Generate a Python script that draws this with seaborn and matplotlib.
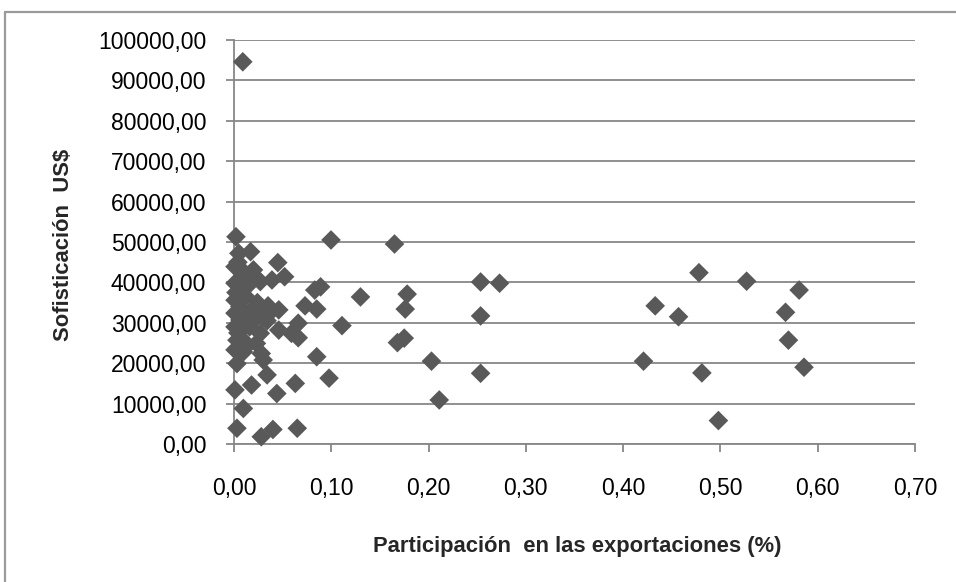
import matplotlib
matplotlib.use("Agg")
import matplotlib.pyplot as plt
import matplotlib.ticker as mticker
from matplotlib.lines import Line2D
import seaborn as sns
import pandas as pd

# Export share (%) of each product and its sophistication level (US$)
participacion = [
    0.002, 0.005, 0.017, 0.001, 0.0096, 0.020, 0.045, 0.052, 0.039, 0.027,
    0.001, 0.013, 0.001, 0.020, 0.035, 0.046, 0.001, 0.006, 0.001, 0.016,
    0.046, 0.059, 0.066, 0.066, 0.027, 0.003, 0.023, 0.001, 0.0096, 0.028,
    0.030, 0.003, 0.034, 0.018, 0.063, 0.001, 0.044, 0.0096, 0.003, 0.028,
    0.040, 0.065, 0.009,
    0.004, 0.008, 0.012, 0.006, 0.010, 0.014, 0.004, 0.008, 0.012, 0.018,
    0.022, 0.024, 0.016, 0.002, 0.030, 0.034, 0.038,
    0.0997, 0.165, 0.089, 0.083, 0.130, 0.178, 0.176, 0.073, 0.085, 0.111,
    0.168, 0.175, 0.085, 0.203, 0.0977, 0.211, 0.2535, 0.273, 0.2535, 0.2535,
    0.478, 0.527, 0.581, 0.433, 0.457, 0.567, 0.570, 0.421, 0.481, 0.586,
    0.498,
]
sofisticacion = [
    51300, 47200, 47600, 43900, 42700, 43100, 44900, 41400, 40600, 40200,
    39800, 38900, 35600, 33600, 34200, 33200, 32400, 30700, 29000, 29000,
    28200, 27400, 29900, 26300, 27400, 25700, 24900, 23300, 22800, 22400,
    20800, 19900, 17100, 14600, 15000, 13400, 12500, 8800, 3900, 1800,
    3600, 3900, 94600,
    45000, 41000, 36500, 34000, 31500, 30000, 27500, 26000, 24000, 32000,
    31000, 35000, 40000, 37500, 31500, 30500, 32800,
    50500, 49500, 38900, 38100, 36400, 37100, 33400, 34200, 33400, 29300,
    25100, 26200, 21600, 20500, 16300, 10900, 40100, 39800, 31700, 17500,
    42400, 40300, 38100, 34200, 31500, 32600, 25700, 20500, 17600, 19000,
    5800,
]

df = pd.DataFrame({"participacion": participacion, "sofisticacion": sofisticacion})

sns.set_style("white")
plt.rcParams["font.family"] = ["Liberation Sans", "DejaVu Sans"]

fig = plt.figure(figsize=(9.56, 5.82), dpi=100)
fig.patch.set_facecolor("white")
ax = fig.add_axes([0.2448, 0.2371, 0.957 - 0.2448, 0.9313 - 0.2371])

grid_c = "#878787"
ax.set_xlim(0, 0.70)
ax.set_ylim(0, 100000)
ax.yaxis.set_major_locator(mticker.MultipleLocator(10000))
ax.xaxis.set_major_locator(mticker.MultipleLocator(0.10))
ax.yaxis.set_major_formatter(mticker.FuncFormatter(lambda v, p: f"{v:.2f}".replace(".", ",")))
ax.xaxis.set_major_formatter(mticker.FuncFormatter(lambda v, p: f"{v:.2f}".replace(".", ",")))
ax.grid(axis="y", color=grid_c, linewidth=1.3)
ax.set_axisbelow(True)

sns.scatterplot(data=df, x="participacion", y="sofisticacion", ax=ax,
                marker="D", s=100, color="#595959", edgecolor="none",
                linewidth=0, clip_on=False, zorder=3)

for side in ["top", "right"]:
    ax.spines[side].set_visible(False)
for side in ["left", "bottom"]:
    ax.spines[side].set_color(grid_c)
    ax.spines[side].set_linewidth(1.3)
ax.tick_params(axis="both", direction="out", length=6, width=1.3, color=grid_c,
               labelsize=16.5, labelcolor="black", left=True, bottom=True)
ax.tick_params(axis="y", pad=14)
ax.tick_params(axis="x", pad=18)

ax.set_xlabel("Participación  en las exportaciones (%)", fontsize=15.8,
              fontweight="bold")
ax.set_ylabel("Sofisticación  US$", fontsize=15.8, fontweight="bold")
ax.xaxis.set_label_coords(0.5037, -0.2525)
ax.xaxis.label.set_va("center")
ax.yaxis.set_label_coords(-0.251, 0.4926)
ax.yaxis.label.set_va("center")

# Chart-area frame along the top and left edges
fig.add_artist(Line2D([5 / 956, 5 / 956], [0, 1 - 12 / 582], transform=fig.transFigure,
                      color="#9a9a9a", linewidth=1.6))
fig.add_artist(Line2D([5 / 956, 1], [1 - 12 / 582, 1 - 12 / 582], transform=fig.transFigure,
                      color="#9a9a9a", linewidth=1.6))

fig.savefig("out.png", dpi=100, facecolor=fig.get_facecolor())
